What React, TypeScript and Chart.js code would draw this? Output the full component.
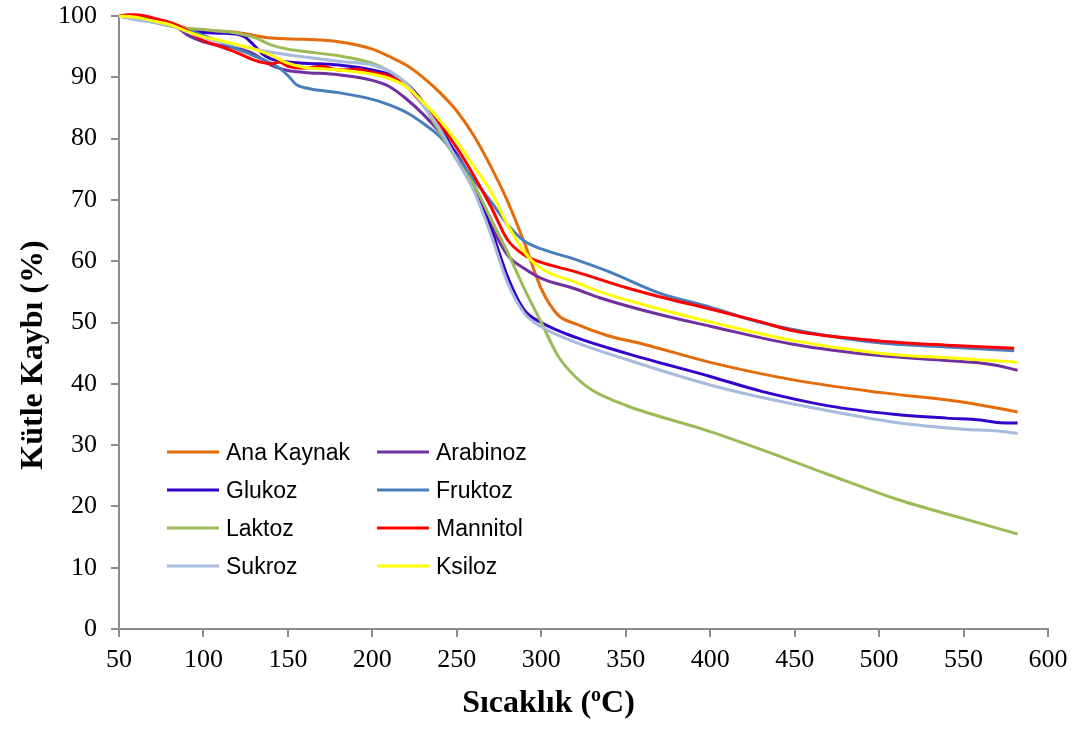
import { useEffect, useRef } from "react";
import { Chart, registerables } from "chart.js";

Chart.register(...registerables);

// Temperature (°C) / remaining mass (%) readings for each sample
const anaKaynakT = [50, 60, 70, 80, 90, 100, 120, 140, 160, 180, 200, 210, 220, 230, 240, 250, 260, 270, 280, 290, 300, 310, 320, 340, 360, 400, 450, 500, 550, 582];
const anaKaynakY = [100, 100, 99.6, 99, 98, 97.7, 97.3, 96.4, 96.2, 95.8, 94.6, 93.4, 92, 90, 87.5, 84.5, 80.5, 75.5, 69.8, 63, 55.5, 51.2, 49.8, 47.8, 46.5, 43.5, 40.6, 38.6, 37, 35.4];

const arabinozT = [50, 60, 70, 80, 85, 90, 95, 100, 110, 120, 130, 140, 150, 160, 180, 200, 210, 220, 230, 240, 250, 260, 270, 280, 290, 300, 320, 335, 370, 400, 450, 500, 540, 560, 570, 582];
const arabinozY = [100, 99.6, 99.2, 98.6, 98, 97, 96.3, 95.8, 95.2, 94.7, 93.8, 92, 91.1, 90.8, 90.4, 89.5, 88.5, 86.5, 84, 81, 77.5, 72.5, 66, 61, 58.8, 57.2, 55.5, 54, 51.3, 49.4, 46.4, 44.6, 43.8, 43.4, 43, 42.2];

const glukozT = [50, 60, 70, 80, 90, 100, 110, 120, 125, 130, 135, 140, 150, 160, 180, 200, 210, 220, 230, 240, 250, 260, 270, 280, 290, 300, 320, 350, 400, 430, 470, 510, 540, 560, 570, 582];
const glukozY = [100, 99.8, 99.3, 98.7, 97.6, 97.3, 97.2, 97, 96.5, 95.2, 93.8, 93, 92.5, 92.3, 92, 91.2, 90.5, 89, 86, 82, 77, 72, 65.5, 57.5, 52, 50, 47.6, 45, 41.2, 38.8, 36.4, 35, 34.4, 34.1, 33.7, 33.6];

const fruktozT = [50, 60, 70, 80, 90, 100, 110, 120, 130, 140, 145, 150, 155, 160, 180, 200, 210, 220, 230, 240, 250, 260, 270, 280, 290, 300, 320, 340, 370, 400, 430, 460, 500, 540, 580];
const fruktozY = [100, 99.5, 99, 98.4, 97.8, 96.8, 95.8, 94.6, 93.5, 92.3, 91.5, 90.3, 88.8, 88.3, 87.5, 86.4, 85.5, 84.3, 82.5, 80.3, 77, 73.3, 69.8, 66, 63.3, 62, 60.3, 58.3, 54.8, 52.5, 50, 48.3, 46.7, 46, 45.4];

const laktozT = [50, 60, 70, 80, 90, 100, 110, 120, 130, 140, 150, 160, 180, 200, 210, 220, 230, 240, 250, 260, 270, 280, 290, 300, 310, 320, 330, 350, 400, 430, 470, 510, 550, 582];
const laktozY = [100, 99.5, 99, 98.5, 98, 97.8, 97.5, 97.2, 96.5, 95.3, 94.6, 94.2, 93.5, 92.3, 91, 89, 85.5, 81, 76.5, 72.5, 67, 61.5, 55.5, 50, 44.5, 41.2, 39, 36.5, 32.2, 29.3, 25.2, 21.2, 18, 15.5];

const mannitolT = [50, 55, 60, 70, 80, 90, 100, 110, 120, 130, 140, 145, 150, 160, 170, 180, 190, 200, 210, 220, 230, 240, 250, 260, 270, 280, 290, 300, 320, 350, 370, 400, 430, 450, 500, 540, 580];
const mannitolY = [100, 100.2, 100.2, 99.7, 98.9, 97.7, 96, 95, 94, 92.8, 92.2, 92.5, 91.8, 91.5, 91.8, 91.2, 91.3, 90.8, 90.2, 88.6, 85.5, 82.3, 78.5, 74, 69, 63.5, 61, 59.8, 58.3, 55.7, 54.2, 52.2, 50.1, 48.6, 47, 46.3, 45.8];

const sukrozT = [50, 60, 70, 80, 90, 100, 110, 120, 140, 160, 180, 200, 210, 220, 230, 240, 250, 260, 270, 280, 290, 300, 320, 350, 400, 430, 470, 510, 550, 570, 582];
const sukrozY = [100, 99.4, 99, 98.5, 97.5, 96.5, 95.8, 95.2, 94.1, 93.3, 92.6, 92, 91, 89, 85.5, 81.5, 76.5, 71.5, 64.5, 56.5, 51.5, 49.3, 46.8, 44, 39.8, 37.8, 35.6, 33.7, 32.6, 32.3, 31.9];

const ksilozT = [50, 60, 70, 80, 90, 100, 110, 120, 130, 140, 150, 160, 180, 200, 210, 220, 230, 240, 250, 260, 270, 280, 290, 300, 320, 335, 370, 400, 450, 500, 550, 582];
const ksilozY = [100, 99.8, 99.2, 98.6, 97.5, 96.6, 96, 95.3, 94.6, 93.6, 92.3, 91.6, 91.2, 90.5, 89.8, 88.5, 86, 83, 79.5, 75.5, 71.5, 66, 61.5, 58.8, 56.6, 55, 52.2, 50.1, 47, 45, 44.1, 43.5];

const seriesLabels = ["Ana Kaynak", "Arabinoz", "Glukoz", "Fruktoz", "Laktoz", "Mannitol", "Sukroz", "Ksiloz"];
const seriesColors = ["#E46C0A", "#7030A0", "#3300CC", "#4A7EBB", "#9BBB59", "#FF0000", "#A7BBDD", "#FFFF00"];
const seriesTemps = [anaKaynakT, arabinozT, glukozT, fruktozT, laktozT, mannitolT, sukrozT, ksilozT];
const seriesMass = [anaKaynakY, arabinozY, glukozY, fruktozY, laktozY, mannitolY, sukrozY, ksilozY];

const xMin = 50;
const xMax = 600;
const xStep = 50;
const yMin = 0;
const yMax = 100;
const yStep = 10;

const xTitleMain = "Sıcaklık (";
const xTitleSup = "o";
const xTitleEnd = "C)";
const yTitle = "Kütle Kaybı (%)";

const AXIS_GRAY = "#8C8C8C";
const TITLE_FONT = 'bold 32px "Liberation Serif"';

// Axis titles and the two-column legend inside the plot
const overlayPlugin = {
  id: "overlay",
  afterDraw(chart: any) {
    const { ctx, chartArea, width, height } = chart;
    ctx.save();

    // legend
    ctx.font = '23px "Liberation Sans"';
    ctx.textBaseline = "alphabetic";
    ctx.textAlign = "left";
    chart.data.datasets.forEach((ds: any, i: number) => {
      const col = i % 2;
      const row = Math.floor(i / 2);
      const lx = chartArea.left + (col ? 258 : 48);
      const cy = chartArea.top + 436 + row * 38;
      ctx.strokeStyle = ds.borderColor;
      ctx.lineWidth = 3;
      ctx.beginPath();
      ctx.moveTo(lx, cy);
      ctx.lineTo(lx + 52, cy);
      ctx.stroke();
      ctx.fillStyle = "#000";
      ctx.fillText(ds.label, lx + 59, cy + 8);
    });

    // x axis title with superscript
    ctx.fillStyle = "#000";
    ctx.font = TITLE_FONT;
    const w1 = ctx.measureText(xTitleMain).width;
    const w3 = ctx.measureText(xTitleEnd).width;
    ctx.font = 'bold 20px "Liberation Serif"';
    const w2 = ctx.measureText(xTitleSup).width;
    const total = w1 + w2 + w3;
    let x = width / 2 + 8 - total / 2;
    const base = height - 17;
    ctx.font = TITLE_FONT;
    ctx.fillText(xTitleMain, x, base);
    x += w1;
    ctx.font = 'bold 20px "Liberation Serif"';
    ctx.fillText(xTitleSup, x, base - 11);
    x += w2;
    ctx.font = TITLE_FONT;
    ctx.fillText(xTitleEnd, x, base);

    // y axis title
    ctx.translate(42, 355);
    ctx.rotate(-Math.PI / 2);
    ctx.textAlign = "center";
    ctx.fillText(yTitle, 0, 0);

    ctx.restore();
  },
};

export default function App() {
  const canvasRef = useRef<HTMLCanvasElement | null>(null);

  useEffect(() => {
    const canvas = canvasRef.current;
    if (!canvas) return;

    const datasets = seriesLabels.map((label, i) => ({
      label,
      data: seriesTemps[i].map((t, k) => ({ x: t, y: seriesMass[i][k] })),
      borderColor: seriesColors[i],
      backgroundColor: seriesColors[i],
      borderWidth: 3,
      pointRadius: 0,
      fill: false,
      cubicInterpolationMode: "monotone" as const,
      order: seriesLabels.length - i,
      clip: 4,
    }));

    const chart = new Chart(canvas, {
      type: "line",
      data: { datasets },
      options: {
        responsive: false,
        animation: false,
        events: [],
        layout: { padding: { top: 16, right: 33, bottom: 0, left: 0 } },
        plugins: {
          legend: { display: false },
          tooltip: { enabled: false },
          title: { display: false },
        },
        scales: {
          x: {
            type: "linear",
            min: xMin,
            max: xMax,
            ticks: {
              stepSize: xStep,
              color: "#000",
              font: { family: "Liberation Serif", size: 26 },
              padding: 8,
              maxRotation: 0,
              autoSkip: false,
            },
            grid: {
              drawOnChartArea: false,
              drawTicks: true,
              tickLength: 8,
              color: AXIS_GRAY,
              lineWidth: 2,
            },
            border: { display: true, color: AXIS_GRAY, width: 2 },
            afterFit: (s: any) => {
              s.height = 100;
              s.paddingLeft = 0;
              s.paddingRight = 0;
            },
          },
          y: {
            type: "linear",
            min: yMin,
            max: yMax,
            ticks: {
              stepSize: yStep,
              color: "#000",
              font: { family: "Liberation Serif", size: 26 },
              padding: 14,
              autoSkip: false,
            },
            grid: {
              drawOnChartArea: false,
              drawTicks: true,
              tickLength: 8,
              color: AXIS_GRAY,
              lineWidth: 2,
            },
            border: { display: true, color: AXIS_GRAY, width: 2 },
            afterFit: (s: any) => {
              s.width = 119;
              s.paddingTop = 0;
              s.paddingBottom = 0;
            },
          },
        },
      },
      plugins: [overlayPlugin],
    });

    return () => chart.destroy();
  }, []);

  return (
    <div style={{ position: "fixed", left: 0, top: 0, width: 1081, height: 729, background: "#fff" }}>
      <canvas ref={canvasRef} width={1081} height={729} style={{ display: "block", width: 1081, height: 729 }} />
    </div>
  );
}
